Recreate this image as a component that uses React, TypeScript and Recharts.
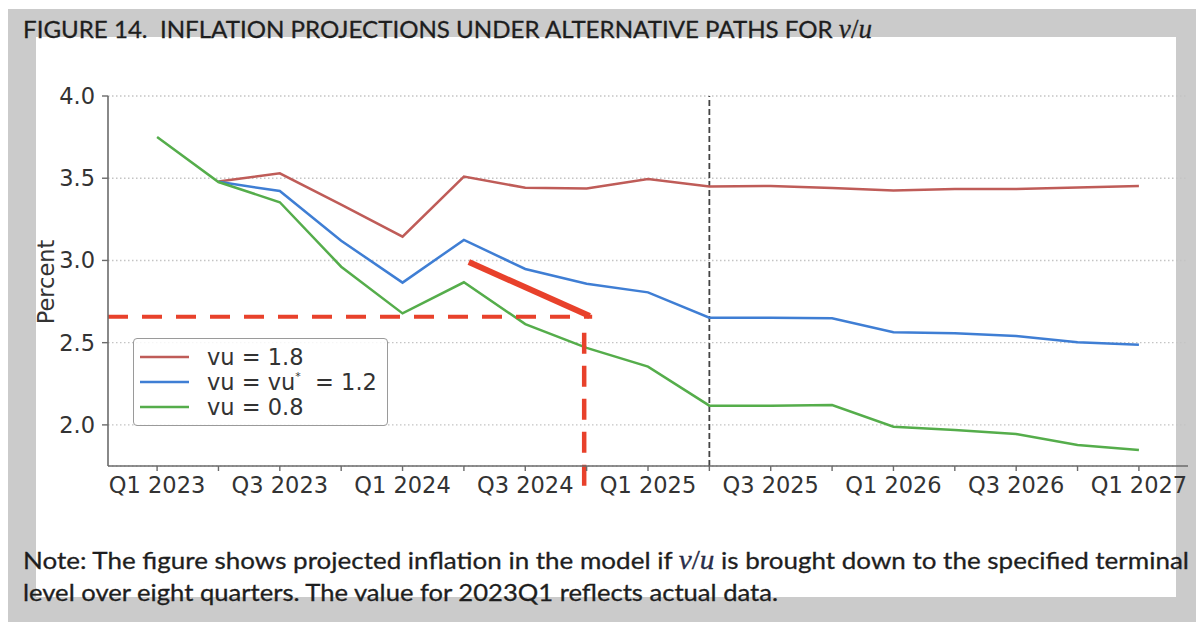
import React from 'react';
import {
  LineChart,
  Line,
  XAxis,
  YAxis,
  CartesianGrid,
  ReferenceLine,
  Legend,
} from 'recharts';

const QUARTERS = [
  'Q1 2023', 'Q2 2023', 'Q3 2023', 'Q4 2023',
  'Q1 2024', 'Q2 2024', 'Q3 2024', 'Q4 2024',
  'Q1 2025', 'Q2 2025', 'Q3 2025', 'Q4 2025',
  'Q1 2026', 'Q2 2026', 'Q3 2026', 'Q4 2026',
  'Q1 2027',
];

// only every other quarter gets a label
const TICK_LABELS = ['Q1 2023', 'Q3 2023', 'Q1 2024', 'Q3 2024', 'Q1 2025', 'Q3 2025', 'Q1 2026', 'Q3 2026', 'Q1 2027'];

const HIGH_VU = [null, 3.48, 3.53, 3.34, 3.145, 3.51, 3.442, 3.438, 3.495, 3.449, 3.453, 3.44, 3.425, 3.434, 3.434, 3.443, 3.452];
const MID_VU = [null, 3.478, 3.422, 3.12, 2.865, 3.125, 2.948, 2.858, 2.806, 2.652, 2.652, 2.648, 2.563, 2.557, 2.54, 2.503, 2.488];
const LOW_VU = [3.751, 3.477, 3.354, 2.962, 2.678, 2.867, 2.613, 2.468, 2.354, 2.117, 2.117, 2.121, 1.989, 1.969, 1.944, 1.878, 1.848];

const Y_TICKS = [2.0, 2.5, 3.0, 3.5, 4.0];

// hand-drawn annotation, in data units (quarter index, percent)
const TARGET_LEVEL = 2.657;
const TARGET_QUARTER = 6.96;
const ARROW_FROM = { x: 5.08, y: 2.99 };
const ARROW_TO = { x: 7.05, y: 2.662 };
const FORECAST_START = 9;

const SERIES = [
  { key: 'high', label: 'vu = 1.8', color: '#bf5c58' },
  { key: 'mid', label: 'vu = vu', color: '#3f7ed4' },
  { key: 'low', label: 'vu = 0.8', color: '#55ad4b' },
];

const data = QUARTERS.map((q, i) => ({
  idx: i,
  quarter: q,
  high: HIGH_VU[i],
  mid: MID_VU[i],
  low: LOW_VU[i],
}));

const TICK_FONT = '"DejaVu Sans", sans-serif';
const ANNOT_RED = '#e8412b';

function LegendBox() {
  return (
    <div
      style={{
        width: 255,
        height: 88,
        border: '1.5px solid #9a9a9a',
        borderRadius: 4,
        background: 'rgba(255,255,255,0.85)',
        boxSizing: 'border-box',
      }}
    >
      <svg width={252} height={85} style={{ display: 'block' }}>
        {SERIES.map((s, i) => {
          const cy = 18 + i * 25;
          return (
            <g key={s.key}>
              <line x1={6} x2={55} y1={cy} y2={cy} stroke={s.color} strokeWidth={2.5} />
              <text x={73} y={cy + 8} fontFamily={TICK_FONT} fontSize={22.5} fill="#333" style={{ whiteSpace: 'pre' }}>
                {s.label}
                {s.key === 'mid' && (
                  <>
                    <tspan fontSize={11} dy={-10}>*</tspan>
                    <tspan dy={10}>{'  = 1.2'}</tspan>
                  </>
                )}
              </text>
            </g>
          );
        })}
      </svg>
    </div>
  );
}

export default function App() {
  return (
    <div style={{ position: 'relative', width: 1204, height: 630, margin: -8, overflow: 'hidden', background: '#fff' }}>
      {/* grey page frame */}
      <div style={{ position: 'absolute', left: 8, top: 9, width: 1196, height: 621, background: '#cbcbcb' }} />
      <div style={{ position: 'absolute', left: 36, top: 37, width: 1140, height: 560, background: '#fff' }} />

      <div style={{ position: 'absolute', left: 0, top: 0 }}>
        <LineChart
          width={1204}
          height={630}
          data={data}
          margin={{ top: 96, right: 16, left: 48, bottom: 124 }}
        >
          <CartesianGrid vertical={false} stroke="#c4c4c4" strokeDasharray="1.5 2.5" strokeWidth={1.4} />
          <XAxis
            dataKey="idx"
            type="number"
            domain={[-0.8, 16.8]}
            ticks={QUARTERS.map((_, i) => i)}
            interval={0}
            height={40}
            tickFormatter={(i: number) => (TICK_LABELS.includes(QUARTERS[i]) ? QUARTERS[i] : '')}
            tick={{ fontFamily: TICK_FONT, fontSize: 22.5, fill: '#333' }}
            tickSize={5}
            tickMargin={6}
            axisLine={{ stroke: '#6b6b6b', strokeWidth: 1.6 }}
            tickLine={{ stroke: '#6b6b6b', strokeWidth: 1.4 }}
          />
          <YAxis
            type="number"
            domain={[1.75, 4.0]}
            ticks={Y_TICKS}
            width={60}
            tickFormatter={(v: number) => v.toFixed(1)}
            tick={{ fontFamily: TICK_FONT, fontSize: 22.5, fill: '#333' }}
            tickSize={6}
            tickMargin={7}
            axisLine={{ stroke: '#6b6b6b', strokeWidth: 1.6 }}
            tickLine={{ stroke: '#6b6b6b', strokeWidth: 1.4 }}
          />
          <ReferenceLine x={FORECAST_START} stroke="#444" strokeWidth={1.8} strokeDasharray="6 3" />
          {SERIES.map((s) => (
            <Line
              key={s.key}
              type="linear"
              dataKey={s.key}
              stroke={s.color}
              strokeWidth={2.5}
              dot={false}
              activeDot={false}
              isAnimationActive={false}
            />
          ))}
          <ReferenceLine
            segment={[{ x: -0.8, y: TARGET_LEVEL }, { x: 7.09, y: TARGET_LEVEL }]}
            stroke={ANNOT_RED}
            strokeWidth={4}
            strokeDasharray="20 14"
            ifOverflow="visible"
          />
          <ReferenceLine
            segment={[{ x: TARGET_QUARTER, y: 2.56 }, { x: TARGET_QUARTER, y: 1.63 }]}
            stroke={ANNOT_RED}
            strokeWidth={4.5}
            strokeDasharray="21 12"
            ifOverflow="visible"
          />
          <ReferenceLine
            segment={[ARROW_FROM, ARROW_TO]}
            stroke={ANNOT_RED}
            strokeWidth={6}
            ifOverflow="visible"
          />
          <Legend
            layout="horizontal"
            verticalAlign="middle"
            align="center"
            content={() => <LegendBox />}
            wrapperStyle={{ left: 133, top: 338, width: 255, height: 88 }}
          />
        </LineChart>
      </div>

      <div
        style={{
          position: 'absolute',
          left: 46,
          top: 282,
          transform: 'translate(-50%, -50%) rotate(-90deg)',
          fontFamily: TICK_FONT,
          fontSize: 22.5,
          color: '#333',
          whiteSpace: 'nowrap',
        }}
      >
        Percent
      </div>

      <svg width={1204} height={630} style={{ position: 'absolute', left: 0, top: 0, pointerEvents: 'none' }}>
        <text
          x={23}
          y={38}
          fontFamily="Lato, sans-serif"
          fontSize={24}
          fill="#1e1e1e"
          stroke="#1e1e1e"
          strokeWidth={0.3}
          textLength={849}
          lengthAdjust="spacingAndGlyphs"
          style={{ whiteSpace: 'pre' }}
        >
          {'FIGURE 14.  INFLATION PROJECTIONS UNDER ALTERNATIVE PATHS FOR '}
          <tspan fontFamily="Liberation Serif, serif" fontStyle="italic" fontSize={27}>v</tspan>
          <tspan fontFamily="Liberation Serif, serif" fontSize={27}>/</tspan>
          <tspan fontFamily="Liberation Serif, serif" fontStyle="italic" fontSize={27}>u</tspan>
        </text>
        <text
          x={23}
          y={569}
          fontFamily="Lato, sans-serif"
          fontSize={24}
          fill="#1e1e1e"
          stroke="#1e1e1e"
          strokeWidth={0.3}
          textLength={1166}
          lengthAdjust="spacingAndGlyphs"
          style={{ whiteSpace: 'pre' }}
        >
          {'Note: The figure shows projected inflation in the model if '}
          <tspan fontFamily="Liberation Serif, serif" fontStyle="italic" fontSize={27} fill="#2a2f55">v</tspan>
          <tspan fontFamily="Liberation Serif, serif" fontSize={27} fill="#2a2f55">/</tspan>
          <tspan fontFamily="Liberation Serif, serif" fontStyle="italic" fontSize={27} fill="#2a2f55">u</tspan>
          {' is brought down to the specified terminal'}
        </text>
        <text
          x={23}
          y={601}
          fontFamily="Lato, sans-serif"
          fontSize={24}
          fill="#1e1e1e"
          stroke="#1e1e1e"
          strokeWidth={0.3}
          textLength={755}
          lengthAdjust="spacingAndGlyphs"
        >
          level over eight quarters. The value for 2023Q1 reflects actual data.
        </text>
      </svg>
    </div>
  );
}
